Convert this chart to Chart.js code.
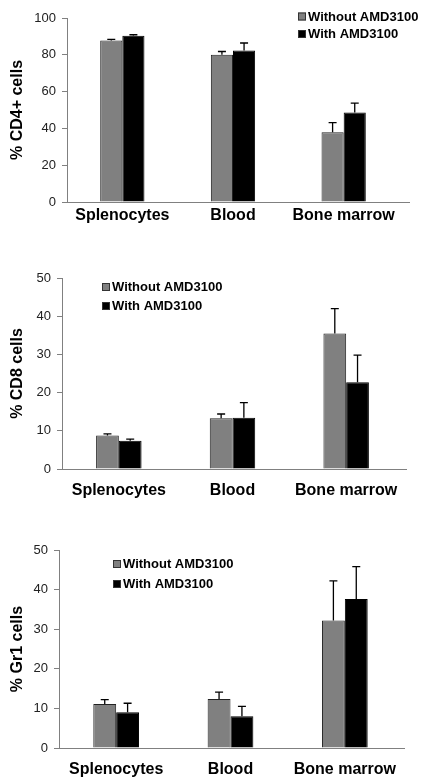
<!DOCTYPE html>
<html>
<head>
<meta charset="utf-8">
<script src="https://cdn.jsdelivr.net/npm/chart.js@4"></script>
<style>
  html, body { margin: 0; padding: 0; background: #fff; }
  body { width: 425px; height: 780px; position: relative; overflow: hidden; }
  .panel { position: absolute; left: 0; width: 425px; }
</style>
</head>
<body>
<div class="panel" id="p1" style="top:0px;height:232px;"><canvas id="cd4"></canvas></div>
<div class="panel" id="p2" style="top:240px;height:260px;"><canvas id="cd8"></canvas></div>
<div class="panel" id="p3" style="top:500px;height:280px;"><canvas id="gr1"></canvas></div>
<script>
(function() {
    // data
    const categories = ["Splenocytes", "Blood", "Bone marrow"];
    const seriesNames = ["Without AMD3100", "With AMD3100"];

    const cd4Without = [87.8, 80.0, 37.9];
    const cd4WithoutErr = [0.6, 1.8, 5.2];
    const cd4With = [90.4, 82.4, 48.6];
    const cd4WithErr = [0.5, 4.0, 5.1];

    const cd8Without = [8.8, 13.3, 35.5];
    const cd8WithoutErr = [0.4, 1.1, 6.5];
    const cd8With = [7.4, 13.4, 22.7];
    const cd8WithErr = [0.4, 4.0, 7.1];

    const gr1Without = [11.1, 12.4, 32.2];
    const gr1WithoutErr = [1.1, 1.7, 10.0];
    const gr1With = [9.0, 8.0, 37.6];
    const gr1WithErr = [2.3, 2.5, 8.2];

    const cd4Ticks = [0, 20, 40, 60, 80, 100];
    const smallTicks = [0, 10, 20, 30, 40, 50];

    const FONT = "'Liberation Sans', Arial, sans-serif";
    const GREY = "#808080";

    // error bars: upward whisker + cap, from the bar's own scale
    const errorBars = {
        id: "errorBars",
        afterDatasetsDraw(chart) {
            const ctx = chart.ctx;
            const y = chart.scales.y;
            ctx.save();
            ctx.strokeStyle = "#000";
            ctx.lineWidth = 1.3;
            chart.data.datasets.forEach((ds, i) => {
                chart.getDatasetMeta(i).data.forEach((bar, j) => {
                    const top = y.getPixelForValue(ds.data[j] + ds.errors[j]);
                    ctx.beginPath();
                    ctx.moveTo(bar.x, bar.y);
                    ctx.lineTo(bar.x, top);
                    ctx.moveTo(bar.x - 4, top);
                    ctx.lineTo(bar.x + 4, top);
                    ctx.stroke();
                });
            });
            ctx.restore();
        }
    };

    // x axis line, runs a bit past the last group like the original
    const xLine = {
        id: "xLine",
        afterDraw(chart, args, opts) {
            const a = chart.chartArea;
            const ctx = chart.ctx;
            ctx.save();
            ctx.strokeStyle = GREY;
            ctx.lineWidth = 1;
            ctx.beginPath();
            ctx.moveTo(a.left, Math.round(a.bottom) + 0.5);
            ctx.lineTo(opts.right, Math.round(a.bottom) + 0.5);
            ctx.stroke();
            ctx.restore();
        }
    };

    // legend drawn inside the plot
    const boxLegend = {
        id: "boxLegend",
        afterDraw(chart, args, opts) {
            const ctx = chart.ctx;
            ctx.save();
            ctx.font = "bold 13px " + FONT;
            ctx.textBaseline = "middle";
            chart.data.datasets.forEach((ds, i) => {
                const cy = opts.y + i * opts.gap;
                ctx.fillStyle = ds.backgroundColor;
                ctx.fillRect(opts.x, cy - 4, 8, 8);
                ctx.strokeStyle = "#333";
                ctx.lineWidth = 1;
                ctx.strokeRect(opts.x + 0.5, cy - 3.5, 7, 7);
                ctx.fillStyle = "#000";
                ctx.fillText(ds.label, opts.x + 10, cy + 0.5);
            });
            ctx.restore();
        }
    };

    function makePanel(id, title, without, withoutErr, withAmd, withErr, ticks, box) {
        new Chart(document.getElementById(id), {
            type: "bar",
            data: {
                labels: categories,
                datasets: [
                    { label: seriesNames[0], data: without, errors: withoutErr, backgroundColor: GREY, borderColor: "#222", borderWidth: 1 },
                    { label: seriesNames[1], data: withAmd, errors: withErr, backgroundColor: "#000", borderColor: "#000", borderWidth: 1 }
                ]
            },
            plugins: [errorBars, xLine, boxLegend],
            options: {
                responsive: true,
                maintainAspectRatio: false,
                animation: false,
                layout: { padding: { left: 0, right: 425 - box.areaRight, top: box.areaTop, bottom: 0 } },
                datasets: { bar: { categoryPercentage: 0.4, barPercentage: 1.0 } },
                plugins: {
                    legend: { display: false },
                    tooltip: { enabled: false },
                    xLine: { right: box.axisRight },
                    boxLegend: { x: box.legendX, y: box.legendY, gap: box.legendGap }
                },
                scales: {
                    x: {
                        grid: { display: false },
                        border: { display: false },
                        ticks: { color: "#000", font: { family: FONT, size: 16, weight: "bold" }, padding: box.labelPad, maxRotation: 0 },
                        afterFit: s => { s.height = box.xHeight; }
                    },
                    y: {
                        min: ticks[0],
                        max: ticks[ticks.length - 1],
                        afterBuildTicks: s => { s.ticks = ticks.map(v => ({ value: v })); },
                        grid: { drawOnChartArea: false, color: GREY, tickLength: 5 },
                        border: { color: GREY },
                        ticks: { color: "#222", font: { family: FONT, size: 13 }, padding: 6 },
                        title: { display: true, text: title, color: "#000", font: { family: FONT, size: 16, weight: "bold" }, padding: { top: 8, bottom: 0 } },
                        afterFit: s => { s.width = box.axisLeft; }
                    }
                }
            }
        });
    }

    makePanel("cd4", "% CD4+ cells", cd4Without, cd4WithoutErr, cd4With, cd4WithErr, cd4Ticks,
        { axisLeft: 67, areaRight: 399, axisRight: 410, areaTop: 18, xHeight: 30, labelPad: -4, legendX: 298, legendY: 16.5, legendGap: 17.5 });
    makePanel("cd8", "% CD8 cells", cd8Without, cd8WithoutErr, cd8With, cd8WithErr, smallTicks,
        { axisLeft: 62, areaRight: 403, axisRight: 407, areaTop: 38, xHeight: 31, labelPad: 4, legendX: 102, legendY: 47, legendGap: 19 });
    makePanel("gr1", "% Gr1 cells", gr1Without, gr1WithoutErr, gr1With, gr1WithErr, smallTicks,
        { axisLeft: 59, areaRight: 402, axisRight: 405, areaTop: 50, xHeight: 32, labelPad: 4, legendX: 113, legendY: 64, legendGap: 20 });
})();
</script>
</body>
</html>
